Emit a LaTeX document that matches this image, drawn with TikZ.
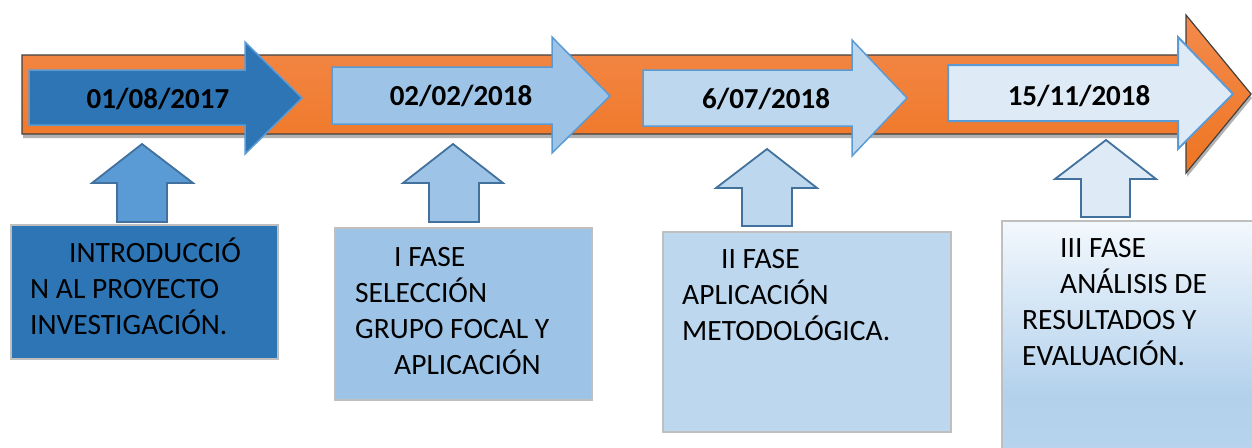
\documentclass[tikz,border=0pt]{standalone}
\usepackage{fontspec}
\setmainfont{Carlito}
\usetikzlibrary{shadows}
\definecolor{barlight}{RGB}{244,138,76}
\definecolor{bardark}{RGB}{238,117,34}
\definecolor{barline}{RGB}{64,64,64}
\definecolor{darkblue}{RGB}{46,117,182}
\definecolor{midblue}{RGB}{91,155,213}
\definecolor{softblue}{RGB}{157,195,230}
\definecolor{paleblue}{RGB}{189,215,238}
\definecolor{iceblue}{RGB}{222,235,247}
\definecolor{upline}{RGB}{65,113,156}
\definecolor{boxline}{RGB}{191,191,191}
\definecolor{fadetop}{RGB}{243,248,253}
\definecolor{fademid}{RGB}{179,209,236}
\definecolor{fadebottom}{RGB}{192,217,240}
\tikzset{
    timebar/.style={
        draw=barline,
        line width=1.2pt,
        top color=barlight,
        bottom color=bardark,
        drop shadow={shadow xshift=1pt, shadow yshift=-4pt, opacity=0.3, fill=black}
    },
    datearrow/.style={
        draw=midblue,
        line width=1.5pt
    },
    uparrow/.style={
        draw=upline,
        line width=1.8pt
    },
    phasebox/.style={
        rectangle,
        draw=boxline,
        line width=1.8pt,
        anchor=north west,
        inner sep=0pt
    },
    datelabel/.style={
        font=\fontsize{29}{34}\selectfont\bfseries,
        anchor=base,
        inner sep=0pt
    },
    phasetext/.style={
        font=\fontsize{29.5}{36}\selectfont,
        align=left,
        anchor=base west,
        inner sep=0pt
    }
}
\begin{document}
\begin{tikzpicture}[x=1pt, y=-1pt]
\useasboundingbox (0,0) rectangle (1252,447);

% timeline bar
\path[timebar] (22,55) -- (1186,55) -- (1186,15) -- (1251,94) -- (1186,173) -- (1186,134) -- (22,134) -- cycle;

% date arrows
\draw[datearrow, fill=darkblue] (29,70) -- (245,70) -- (245,42) -- (302,98) -- (245,154) -- (245,125) -- (29,125) -- cycle;
\draw[datearrow, fill=softblue] (332,67) -- (552,67) -- (552,37) -- (610,96) -- (552,153) -- (552,124) -- (332,124) -- cycle;
\draw[datearrow, fill=paleblue] (643,70) -- (852,70) -- (852,40) -- (907,98) -- (852,156) -- (852,126) -- (643,126) -- cycle;
\draw[datearrow, fill=iceblue, line width=2pt] (948,65) -- (1178,65) -- (1178,37) -- (1233,94) -- (1178,149) -- (1178,121) -- (948,121) -- cycle;

\node[datelabel] (date1) at (158,108) {01/08/2017};
\node[datelabel] (date2) at (461,105) {02/02/2018};
\node[datelabel] (date3) at (766,108) {6/07/2018};
\node[datelabel] (date4) at (1079,105) {15/11/2018};

% up arrows
\draw[uparrow, fill=midblue] (142,144) -- (193,183) -- (167,183) -- (167,222) -- (117,222) -- (117,183) -- (92,183) -- cycle;
\draw[uparrow, fill=softblue] (453,144) -- (503,183) -- (479,183) -- (479,222) -- (429,222) -- (429,183) -- (403,183) -- cycle;
\draw[uparrow, fill=paleblue] (767,149) -- (817,188) -- (792,188) -- (792,226) -- (742,226) -- (742,188) -- (716,188) -- cycle;
\draw[uparrow, fill=iceblue] (1106,140) -- (1156,179) -- (1130,179) -- (1130,217) -- (1081,217) -- (1081,179) -- (1055,179) -- cycle;

% phase boxes
\node[phasebox, fill=darkblue, minimum width=267pt, minimum height=134pt] (intro-box) at (10,224) {};
\node[phasebox, fill=softblue, minimum width=257pt, minimum height=172pt] (fase1-box) at (334,227) {};
\node[phasebox, fill=paleblue, minimum width=288pt, minimum height=200pt] (fase2-box) at (662,231) {};
\node[phasebox, top color=fadetop, bottom color=fadebottom, middle color=fademid, minimum width=270pt, minimum height=350pt] (fase3-box) at (1001,220) {};

% texts (base = last line)
\node[phasetext] (intro-text) at (30,334) {\hspace*{39pt}INTRODUCCIÓ\\N AL PROYECTO\\INVESTIGACIÓN.};
\node[phasetext] (fase1-text) at (355,374) {\hspace*{39pt}I FASE\\SELECCIÓN\\GRUPO FOCAL Y\\\hspace*{39pt}APLICACIÓN};
\node[phasetext] (fase2-text) at (682,340) {\hspace*{39pt}II FASE\\APLICACIÓN\\METODOLÓGICA.};
\node[phasetext] (fase3-text) at (1022,365) {\hspace*{38pt}III FASE\\\hspace*{38pt}ANÁLISIS DE\\RESULTADOS Y\\EVALUACIÓN.};
\end{tikzpicture}
\end{document}
